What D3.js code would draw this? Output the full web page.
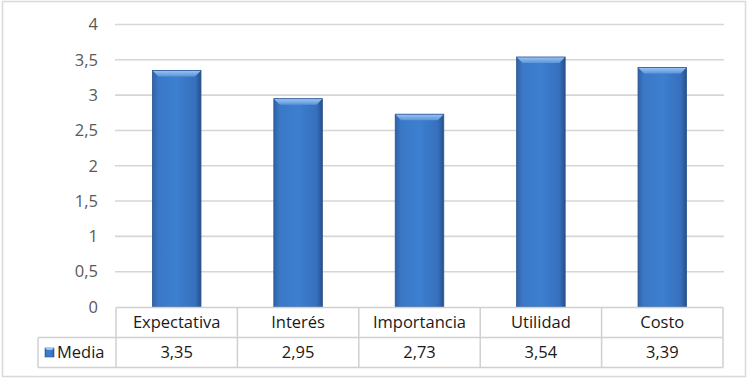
<!DOCTYPE html>
<html>
<head>
<meta charset="utf-8">
<script src="https://d3js.org/d3.v7.min.js"></script>
<style>
  body { margin: 0; background: #fff; }
  text { font-family: 'Open Sans', sans-serif; }
</style>
</head>
<body>
<div id="chart"></div>
<script>
  var categories = ["Expectativa", "Interés", "Importancia", "Utilidad", "Costo"];
  var media = [3.35, 2.95, 2.73, 3.54, 3.39];
  var yTicks = [0, 0.5, 1, 1.5, 2, 2.5, 3, 3.5, 4];
  var seriesName = "Media";

  var svg = d3.select("#chart").append("svg")
    .attr("width", 750).attr("height", 379);

  // frame
  svg.append("rect")
    .attr("x", 2.5).attr("y", 1.5).attr("width", 743).attr("height", 375)
    .attr("fill", "#fff").attr("stroke", "#d9d9d9").attr("stroke-width", 1.5);

  var x = d3.scaleBand().domain(categories).range([116, 723])
    .paddingInner(0.6).paddingOuter(0.3);
  var y = d3.scaleLinear().domain([0, 4]).range([307, 24.5]);
  var fmt = function (v) { return String(v).replace(".", ","); };
  var fs = 16.5;

  var defs = svg.append("defs");
  var g1 = defs.append("linearGradient").attr("id", "body")
    .attr("x1", 0).attr("x2", 1).attr("y1", 0).attr("y2", 0);
  g1.append("stop").attr("offset", 0).attr("stop-color", "#2f62a8");
  g1.append("stop").attr("offset", 0.12).attr("stop-color", "#3a78c6");
  g1.append("stop").attr("offset", 0.5).attr("stop-color", "#3d7fd0");
  g1.append("stop").attr("offset", 0.88).attr("stop-color", "#3670bd");
  g1.append("stop").attr("offset", 1).attr("stop-color", "#27508a");
  var g2 = defs.append("linearGradient").attr("id", "top")
    .attr("x1", 0).attr("x2", 0).attr("y1", 0).attr("y2", 1);
  g2.append("stop").attr("offset", 0).attr("stop-color", "#9cc6f3");
  g2.append("stop").attr("offset", 1).attr("stop-color", "#5b95dc");

  // gridlines
  svg.append("g").selectAll("line").data(yTicks.slice(1)).join("line")
    .attr("x1", 115).attr("x2", 724)
    .attr("y1", function (d) { return y(d); }).attr("y2", function (d) { return y(d); })
    .attr("stroke", "#d6d6d6").attr("stroke-width", 1.6);

  // y tick labels
  svg.append("g").selectAll("text").data(yTicks).join("text")
    .attr("x", 98).attr("y", function (d) { return y(d); })
    .attr("dy", "0.35em").attr("text-anchor", "end")
    .attr("font-size", fs).attr("fill", "#595959")
    .text(fmt);

  // bars with a bevel look
  var bars = svg.append("g").selectAll("g").data(media).join("g");
  var bw = x.bandwidth(), bv = 6;
  bars.append("rect")
    .attr("x", function (d, i) { return x(categories[i]); })
    .attr("y", function (d) { return y(d); })
    .attr("width", bw)
    .attr("height", function (d) { return y(0) - y(d); })
    .attr("fill", "url(#body)");
  bars.append("path")
    .attr("d", function (d, i) {
      var x0 = x(categories[i]), y0 = y(d);
      return "M" + x0 + "," + y0 + "L" + (x0 + bw) + "," + y0 +
        "L" + (x0 + bw - bv) + "," + (y0 + bv) + "L" + (x0 + bv) + "," + (y0 + bv) + "Z";
    })
    .attr("fill", "url(#top)");
  bars.append("rect")
    .attr("x", function (d, i) { return x(categories[i]); })
    .attr("y", function (d) { return y(d); })
    .attr("width", bw)
    .attr("height", function (d) { return y(0) - y(d); })
    .attr("fill", "none").attr("stroke", "#2a5592").attr("stroke-width", 0.8);

  // data table
  var tbl = svg.append("g");
  var rowTop = 307.5, rowH = 30, colX0 = 116, legX = 38;
  var lineC = "#d0d0d0";
  var cols = categories.map(function (c) { return x(c) - x.step() * x.paddingOuter(); });
  cols.push(723);
  tbl.append("line").attr("x1", colX0).attr("x2", 723).attr("y1", rowTop).attr("y2", rowTop)
    .attr("stroke", lineC).attr("stroke-width", 1.5);
  tbl.append("line").attr("x1", legX).attr("x2", 723).attr("y1", rowTop + rowH).attr("y2", rowTop + rowH)
    .attr("stroke", lineC).attr("stroke-width", 1.5);
  tbl.append("line").attr("x1", legX).attr("x2", 723).attr("y1", rowTop + 2 * rowH).attr("y2", rowTop + 2 * rowH)
    .attr("stroke", lineC).attr("stroke-width", 1.5);
  tbl.selectAll(".v").data(cols).join("line")
    .attr("x1", function (d) { return d; }).attr("x2", function (d) { return d; })
    .attr("y1", rowTop).attr("y2", rowTop + 2 * rowH)
    .attr("stroke", lineC).attr("stroke-width", 1.5);
  tbl.append("line").attr("x1", legX).attr("x2", legX)
    .attr("y1", rowTop + rowH).attr("y2", rowTop + 2 * rowH)
    .attr("stroke", lineC).attr("stroke-width", 1.5);

  tbl.selectAll(".cat").data(categories).join("text")
    .attr("x", function (d) { return x(d) + bw / 2; })
    .attr("y", rowTop + rowH / 2).attr("dy", "0.35em")
    .attr("text-anchor", "middle").attr("font-size", fs).attr("fill", "#1a1a1a")
    .text(function (d) { return d; });
  tbl.selectAll(".val").data(media).join("text")
    .attr("x", function (d, i) { return x(categories[i]) + bw / 2; })
    .attr("y", rowTop + rowH * 1.5).attr("dy", "0.35em")
    .attr("text-anchor", "middle").attr("font-size", fs).attr("fill", "#1a1a1a")
    .text(fmt);

  // legend key
  tbl.append("rect").attr("x", 45).attr("y", rowTop + rowH * 1.5 - 4.5)
    .attr("width", 9).attr("height", 9).attr("fill", "url(#body)")
    .attr("stroke", "#2a5592").attr("stroke-width", 0.6);
  tbl.append("path")
    .attr("d", "M45," + (rowTop + rowH * 1.5 - 4.5) + "l9,0l-2,2l-5,0z")
    .attr("fill", "#9cc6f3");
  tbl.append("text").attr("x", 57).attr("y", rowTop + rowH * 1.5).attr("dy", "0.35em")
    .attr("font-size", fs).attr("fill", "#1a1a1a").text(seriesName);
</script>
</body>
</html>
